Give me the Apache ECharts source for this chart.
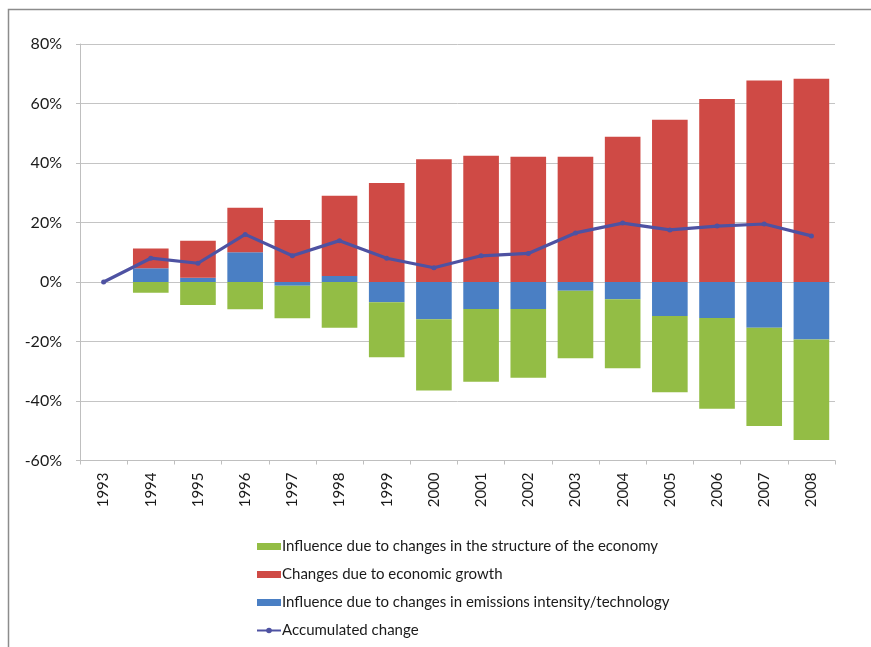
<!DOCTYPE html>
<html>
<head>
<meta charset="utf-8">
<script src="https://cdn.jsdelivr.net/npm/echarts@6/dist/echarts.min.js"></script>
<style>
  html, body { margin: 0; padding: 0; background: #fff; }
  #chart { width: 871px; height: 647px; }
</style>
</head>
<body>
<div id="chart"></div>
<script>
// Decomposition of emissions change relative to 1993 (percent)
const years = ['1993','1994','1995','1996','1997','1998','1999','2000','2001','2002','2003','2004','2005','2006','2007','2008'];
const technology = [0, 4.6, 1.4, 10.0, -1.3, 2.0, -6.8, -12.5, -9.1, -9.1, -2.9, -5.8, -11.4, -12.1, -15.4, -19.3];
const growth = [0, 6.7, 12.5, 15.0, 20.8, 27.0, 33.3, 41.3, 42.4, 42.1, 42.1, 48.8, 54.5, 61.5, 67.7, 68.3];
const structure = [0, -3.6, -7.7, -9.2, -10.9, -15.4, -18.5, -24.0, -24.4, -23.1, -22.7, -23.2, -25.7, -30.5, -33.0, -33.8];
const accumulated = [0, 8.0, 6.3, 16.0, 8.8, 13.9, 8.0, 4.8, 8.8, 9.6, 16.5, 19.8, 17.5, 18.8, 19.5, 15.5];
const yTicks = { min: -60, max: 80, step: 20 };

const names = {
  structure: 'Influence due to changes in the structure of the economy',
  growth: 'Changes due to economic growth',
  technology: 'Influence due to changes in emissions intensity/technology',
  accumulated: 'Accumulated change'
};

const font = 'Lato, "Open Sans", sans-serif';
const chart = echarts.init(document.getElementById('chart'));

chart.setOption({
  animation: false,
  backgroundColor: '#ffffff',
  textStyle: { fontFamily: font },
  graphic: [{
    type: 'polyline',
    shape: { points: [[8.5, 647], [8.5, 9.5], [871, 9.5]] },
    style: { stroke: '#8c8c8c', lineWidth: 1.5, fill: null },
    silent: true
  }],
  grid: { left: 80, right: 36, top: 44, bottom: 186.5 },
  legend: {
    orient: 'vertical',
    left: 251,
    top: 534,
    itemWidth: 24,
    itemHeight: 7,
    itemGap: 13,
    itemStyle: { borderWidth: 0 },
    textStyle: { fontSize: 15, color: '#1a1a1a', fontFamily: font, lineHeight: 15, padding: [0, 0, 0, -4] },
    data: [
      { name: names.structure, icon: 'rect' },
      { name: names.growth, icon: 'rect' },
      { name: names.technology, icon: 'rect' },
      { name: names.accumulated }
    ]
  },
  xAxis: {
    type: 'category',
    data: years,
    boundaryGap: true,
    axisLine: { onZero: false, lineStyle: { color: '#bfbfbf', width: 1 } },
    axisTick: { show: true, length: 4, inside: false, lineStyle: { color: '#bfbfbf' } },
    axisLabel: { rotate: 90, fontSize: 15, color: '#1a1a1a', margin: 12, fontFamily: font }
  },
  yAxis: {
    type: 'value',
    min: yTicks.min,
    max: yTicks.max,
    interval: yTicks.step,
    axisLine: { show: true, lineStyle: { color: '#bfbfbf', width: 1 } },
    axisTick: { show: true, length: 4, lineStyle: { color: '#bfbfbf' } },
    axisLabel: { formatter: '{value}%', fontSize: 16, color: '#1a1a1a', margin: 18, fontFamily: font },
    splitLine: { lineStyle: { color: '#c4c4c4', width: 1 } }
  },
  series: [
    {
      name: names.technology,
      type: 'bar',
      stack: 'total',
      barCategoryGap: '24.5%',
      itemStyle: { color: '#4a7fc4' },
      data: technology
    },
    {
      name: names.growth,
      type: 'bar',
      stack: 'total',
      itemStyle: { color: '#cf4a45' },
      data: growth
    },
    {
      name: names.structure,
      type: 'bar',
      stack: 'total',
      itemStyle: { color: '#93bd45' },
      data: structure
    },
    {
      name: names.accumulated,
      type: 'line',
      data: accumulated,
      symbol: 'circle',
      symbolSize: 5,
      z: 5,
      lineStyle: { color: '#4e52a2', width: 3.2 },
      itemStyle: { color: '#4e52a2' }
    }
  ]
});
</script>
</body>
</html>
